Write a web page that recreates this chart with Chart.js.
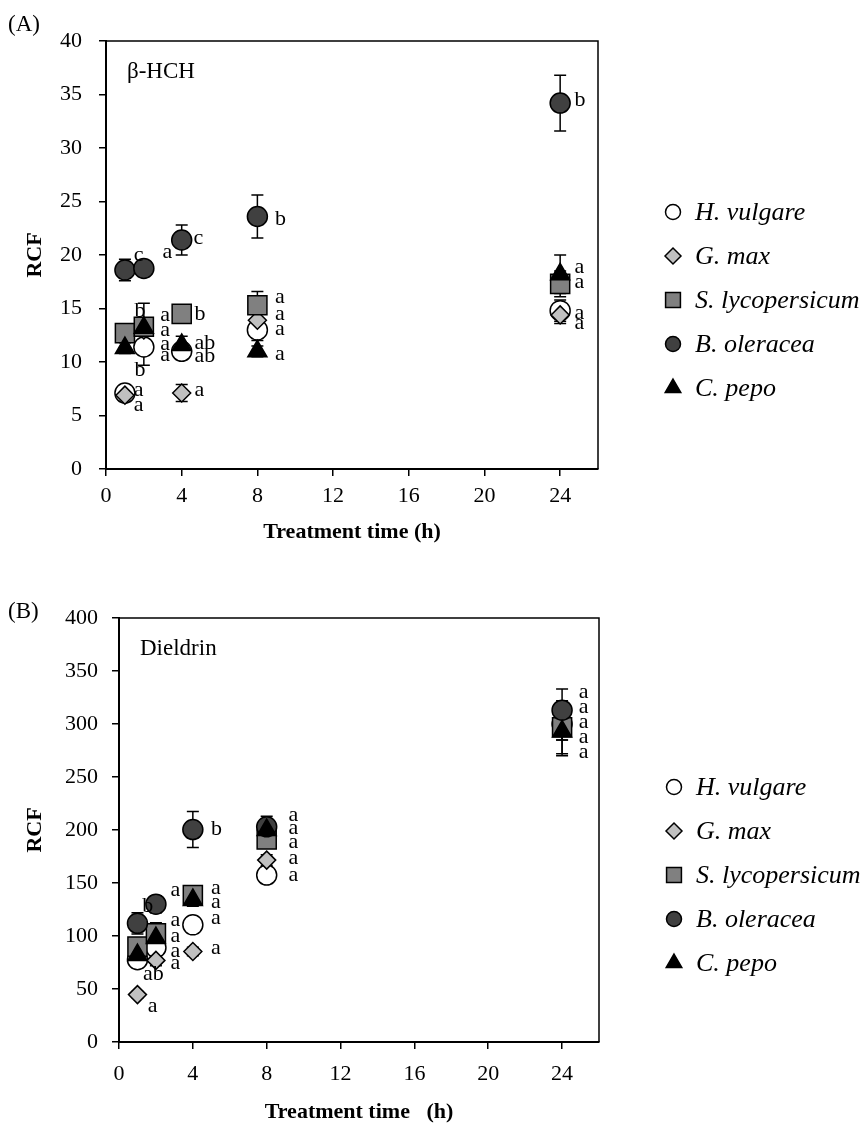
<!DOCTYPE html>
<html><head><meta charset="utf-8">
<script src="https://cdn.jsdelivr.net/npm/chart.js@4.4.1/dist/chart.umd.min.js"></script>
<style>
html,body{margin:0;padding:0;background:#fff;}
#wrap{position:relative;width:867px;height:1128px;overflow:hidden;}
canvas{position:absolute;left:0;}
</style></head><body>
<div id="wrap">
<canvas id="cA" width="867" height="560" style="top:0px"></canvas>
<canvas id="cB" width="867" height="568" style="top:560px"></canvas>
</div>
<script>
// ---------- shared categories / ticks ----------
const hours = [1, 2, 4, 8, 24];
const seriesNames = ['H. vulgare', 'G. max', 'S. lycopersicum', 'B. oleracea', 'C. pepo'];
const xTickValues = [0, 4, 8, 12, 16, 20, 24];
const yTicksA = [0, 5, 10, 15, 20, 25, 30, 35, 40];
const yTicksB = [0, 50, 100, 150, 200, 250, 300, 350, 400];

// ---------- Panel A : beta-HCH ----------
const hchHvulgare = [7.1, 11.4, 11.0, 13.0, 14.8];
const hchGmax     = [6.9, 13.0, 7.1, 13.9, 14.4];
const hchSlyco    = [12.7, 13.3, 14.5, 15.3, 17.3];
const hchBoler    = [18.6, 18.75, 21.4, 23.6, 34.2];
const hchCpepo    = [11.3, 13.2, 11.6, 11.0, 18.2];
const hchHvulgareErr = [0.5, 1.7, 0.6, 1.0, 1.0];
const hchGmaxErr     = [0.5, 0.5, 0.8, 0.6, 0.8];
const hchSlycoErr    = [0.5, 0.8, 0.5, 1.3, 1.2];
const hchBolerErr    = [1.0, 0.5, 1.4, 2.0, 2.6];
const hchCpepoErr    = [0.5, 2.3, 0.8, 0.5, 1.8];
const hchLetters = [
  [1.46, 20.0, 'c'], [2.99, 20.3, 'a'], [4.63, 21.6, 'c'], [8.93, 23.3, 'b'], [24.76, 34.5, 'b'],
  [1.51, 14.7, 'b'], [2.87, 14.4, 'a'], [2.87, 13.0, 'a'], [2.87, 11.7, 'a'], [2.87, 10.65, 'a'], [1.51, 9.25, 'b'],
  [1.46, 7.4, 'a'], [1.46, 6.0, 'a'],
  [4.68, 14.5, 'b'], [4.68, 11.8, 'ab'], [4.68, 10.5, 'ab'], [4.68, 7.4, 'a'],
  [8.93, 16.1, 'a'], [8.93, 14.5, 'a'], [8.93, 13.1, 'a'], [8.93, 10.7, 'a'],
  [24.76, 18.9, 'a'], [24.76, 17.5, 'a'], [24.76, 14.55, 'a'], [24.76, 13.6, 'a']
];

// ---------- Panel B : Dieldrin ----------
const dieHvulgare = [77.6, 89, 110.5, 157.5, 300];
const dieGmax     = [44.7, 77, 85.4, 171.6, 300];
const dieSlyco    = [90, 102.6, 138.7, 191, 297];
const dieBoler    = [112, 130, 200.4, 203, 313];
const dieCpepo    = [82, 98, 134, 200, 293];
const dieHvulgareErr = [5, 15, 5, 5, 15];
const dieGmaxErr     = [3, 5, 4, 5, 15];
const dieSlycoErr    = [8, 10, 6, 8, 25];
const dieBolerErr    = [10, 8, 17, 10, 20];
const dieCpepoErr    = [5, 8, 6, 8, 23];
const dieLetters = [
  [1.26, 127.7, 'b'], [2.79, 143, 'a'], [2.79, 115, 'a'], [2.79, 99.5, 'a'], [2.79, 85.4, 'a'], [2.79, 74.4, 'a'],
  [1.3, 63.5, 'ab'], [1.56, 33.7, 'a'],
  [4.98, 200.4, 'b'], [4.98, 145, 'a'], [4.98, 131.5, 'a'], [4.98, 116.7, 'a'], [4.98, 88.5, 'a'],
  [9.18, 213.9, 'a'], [9.18, 201.3, 'a'], [9.18, 188.2, 'a'], [9.18, 173.2, 'a'], [9.18, 157.5, 'a'],
  [24.9, 329.8, 'a'], [24.9, 315.7, 'a'], [24.9, 301.6, 'a'], [24.9, 287.5, 'a'], [24.9, 273.4, 'a']
];

// ---------- styles ----------
const FONT = '"Liberation Serif", "Times New Roman", serif';
Chart.defaults.font.family = FONT;
Chart.defaults.color = '#000';

const markerStyles = [
  {pointStyle: 'circle',   radius: 10,   fill: '#ffffff', legendR: 7.5},
  {pointStyle: 'rectRot',  radius: 9,    fill: '#c0c0c0', legendR: 8},
  {pointStyle: 'rect',     radius: 13.5, fill: '#808080', legendR: 10.5},
  {pointStyle: 'circle',   radius: 10,   fill: '#404040', legendR: 7.5},
  {pointStyle: 'triangle', radius: 11,   fill: '#000000', legendR: 9}
];
const drawOrder = [5, 4, 3, 2, 1];

function drawMarker(ctx, style, r, x, y) {
  ctx.beginPath();
  if (style === 'circle') {
    ctx.arc(x, y, r, 0, Math.PI * 2);
  } else if (style === 'rectRot') {
    ctx.moveTo(x - r, y); ctx.lineTo(x, y - r); ctx.lineTo(x + r, y); ctx.lineTo(x, y + r); ctx.closePath();
  } else if (style === 'rect') {
    const s = r * Math.SQRT1_2;
    ctx.rect(x - s, y - s, 2 * s, 2 * s);
  } else if (style === 'triangle') {
    for (let k = 0; k < 3; k++) {
      const a = k * 2 * Math.PI / 3;
      const px = x + Math.sin(a) * r, py = y - Math.cos(a) * r;
      if (k === 0) ctx.moveTo(px, py); else ctx.lineTo(px, py);
    }
    ctx.closePath();
  }
  ctx.fill(); ctx.stroke();
}

const overlay = {
  id: 'overlay',
  beforeDatasetsDraw(chart, args, o) {
    const {ctx, scales: {x, y}} = chart;
    ctx.save();
    ctx.strokeStyle = '#000'; ctx.lineWidth = 1.5;
    o.errors.forEach((errArr, si) => {
      const vals = o.values[si];
      hours.forEach((h, j) => {
        const e = errArr[j];
        if (!e) return;
        const px = x.getPixelForValue(h);
        const yt = y.getPixelForValue(vals[j] + e);
        const yb = y.getPixelForValue(vals[j] - e);
        ctx.beginPath();
        ctx.moveTo(px, yt); ctx.lineTo(px, yb);
        ctx.moveTo(px - 6, yt); ctx.lineTo(px + 6, yt);
        ctx.moveTo(px - 6, yb); ctx.lineTo(px + 6, yb);
        ctx.stroke();
      });
    });
    ctx.restore();
  },
  afterDatasetsDraw(chart, args, o) {
    const {ctx, scales: {x, y}} = chart;
    ctx.save();
    ctx.fillStyle = '#000';
    ctx.font = '22px ' + FONT;
    ctx.textAlign = 'left'; ctx.textBaseline = 'middle';
    o.letters.forEach(([lx, ly, t]) => {
      ctx.fillText(t, x.getPixelForValue(lx), y.getPixelForValue(ly));
    });
    ctx.restore();
  },
  afterDraw(chart, args, o) {
    const {ctx, chartArea: ca} = chart;
    ctx.save();
    // top and right frame lines
    ctx.strokeStyle = '#000'; ctx.lineWidth = 1.5;
    ctx.beginPath();
    ctx.moveTo(ca.left, ca.top); ctx.lineTo(ca.right, ca.top); ctx.lineTo(ca.right, ca.bottom);
    ctx.stroke();
    // panel heading and compound name
    ctx.fillStyle = '#000';
    ctx.textBaseline = 'middle'; ctx.textAlign = 'left';
    ctx.font = '23px ' + FONT;
    ctx.fillText(o.panel, 8, o.panelY);
    ctx.fillText(o.compound, ca.left + 21, ca.top + 31);
    // legend
    const lx = ca.right + 75;
    const cy = (ca.top + ca.bottom) / 2 + 45;
    ctx.font = 'italic 26px ' + FONT;
    chart.data.datasets.forEach((ds, i) => {
      const yy = cy + (i - 2) * 44;
      const ms = markerStyles[i];
      ctx.fillStyle = ms.fill; ctx.strokeStyle = '#000'; ctx.lineWidth = 1.5;
      drawMarker(ctx, ms.pointStyle, ms.legendR, lx, yy);
      ctx.fillStyle = '#000';
      ctx.fillText(ds.label, lx + 22, yy + 1);
    });
    ctx.restore();
  }
};

function makeDatasets(valueSets) {
  return valueSets.map((vals, i) => ({
    label: seriesNames[i],
    data: hours.map((h, j) => ({x: h, y: vals[j]})),
    pointStyle: markerStyles[i].pointStyle,
    pointRadius: markerStyles[i].radius,
    pointHoverRadius: markerStyles[i].radius,
    backgroundColor: markerStyles[i].fill,
    borderColor: '#000',
    borderWidth: 1.5,
    showLine: false,
    order: drawOrder[i]
  }));
}

function makeChart(id, cfg) {
  return new Chart(document.getElementById(id), {
    type: 'scatter',
    data: {datasets: makeDatasets(cfg.values)},
    plugins: [overlay],
    options: {
      responsive: false,
      animation: false,
      devicePixelRatio: 1,
      layout: {padding: cfg.padding},
      plugins: {
        legend: {display: false},
        tooltip: {enabled: false},
        overlay: {
          values: cfg.values, errors: cfg.errors, letters: cfg.letters,
          panel: cfg.panel, panelY: cfg.panelY, compound: cfg.compound
        }
      },
      scales: {
        x: {
          type: 'linear', min: 0, max: 26,
          afterBuildTicks: s => { s.ticks = xTickValues.map(v => ({value: v})); },
          afterFit: s => { s.height = cfg.xHeight; },
          ticks: {autoSkip: false, maxRotation: 0, padding: cfg.xPad, font: {size: 22}, color: '#000'},
          grid: {display: true, drawOnChartArea: false, drawTicks: true, tickLength: 7, color: '#000', lineWidth: 1.5},
          border: {display: true, color: '#000', width: 2},
          title: {display: true, text: cfg.xTitle, font: {size: 22, weight: 'bold'}, color: '#000', padding: {top: 0, bottom: 0}}
        },
        y: {
          type: 'linear', min: cfg.yMin, max: cfg.yMax,
          afterBuildTicks: s => { s.ticks = cfg.yTicks.map(v => ({value: v})); },
          afterFit: s => { s.width = cfg.yWidth; },
          ticks: {autoSkip: false, padding: cfg.yPad, font: {size: 22}, color: '#000'},
          grid: {display: true, drawOnChartArea: false, drawTicks: true, tickLength: 7, color: '#000', lineWidth: 1.5},
          border: {display: true, color: '#000', width: 2},
          title: {display: true, text: 'RCF', font: {size: 22, weight: 'bold'}, color: '#000', padding: {top: 22, bottom: 0}}
        }
      }
    }
  });
}

makeChart('cA', {
  values: [hchHvulgare, hchGmax, hchSlyco, hchBoler, hchCpepo],
  errors: [hchHvulgareErr, hchGmaxErr, hchSlycoErr, hchBolerErr, hchCpepoErr],
  letters: hchLetters,
  panel: '(A)', panelY: 25, compound: 'β-HCH',
  yMin: 0, yMax: 40, yTicks: yTicksA,
  padding: {left: 0, top: 41, right: 269, bottom: 14},
  yWidth: 106, xHeight: 77, xPad: 7, yPad: 17,
  xTitle: 'Treatment time (h)'
});

makeChart('cB', {
  values: [dieHvulgare, dieGmax, dieSlyco, dieBoler, dieCpepo],
  errors: [dieHvulgareErr, dieGmaxErr, dieSlycoErr, dieBolerErr, dieCpepoErr],
  letters: dieLetters,
  panel: '(B)', panelY: 52, compound: 'Dieldrin',
  yMin: 0, yMax: 400, yTicks: yTicksB,
  padding: {left: 0, top: 58, right: 268, bottom: 2},
  yWidth: 119, xHeight: 84, xPad: 12, yPad: 14,
  xTitle: 'Treatment time   (h)'
});
</script>
</body></html>
